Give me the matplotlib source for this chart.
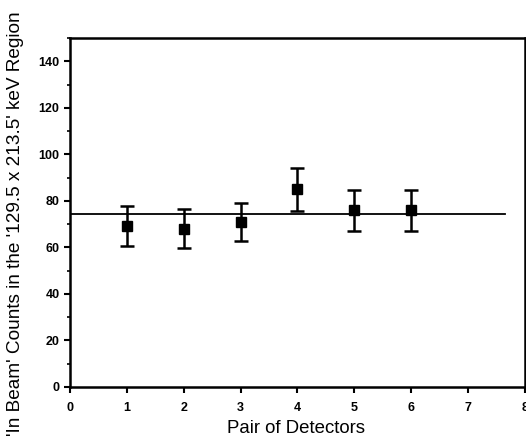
import matplotlib
matplotlib.use("Agg")
import matplotlib.pyplot as plt
from matplotlib.ticker import MultipleLocator

plt.rcParams["font.family"] = ["Liberation Sans", "DejaVu Sans"]

# data
pairs = [1, 2, 3, 4, 5, 6]
counts = [69.2, 68.1, 71.0, 85.0, 75.9, 75.9]
errors = [8.5, 8.5, 8.3, 9.2, 8.8, 8.8]
mean_level = 74.3
mean_span = [0, 7.65]

x_ticks = [0, 1, 2, 3, 4, 5, 6, 7, 8]
y_ticks = [0, 20, 40, 60, 80, 100, 120, 140]

fig = plt.figure(figsize=(5.26, 4.40), dpi=100)
ax = fig.add_axes([0.133, 0.1205, 0.865, 0.793])

ax.plot(mean_span, [mean_level, mean_level], color="black", linewidth=1.3)
ax.errorbar(pairs, counts, yerr=errors, fmt="s", color="black",
            markersize=6.5, elinewidth=1.8, capsize=5, capthick=1.8)

ax.set_xlim(0, 8)
ax.set_ylim(0, 150)
ax.set_xticks(x_ticks)
ax.set_yticks(y_ticks)
ax.yaxis.set_minor_locator(MultipleLocator(10))
ax.tick_params(which="major", direction="out", length=4, width=1.5)
ax.tick_params(which="minor", direction="out", length=2, width=1.2)
ax.tick_params(axis="x", pad=7)
for lbl in ax.get_xticklabels() + ax.get_yticklabels():
    lbl.set_fontweight("bold")
    lbl.set_fontsize(9)

for s in ax.spines.values():
    s.set_linewidth(1.8)

ax.set_xlabel("Pair of Detectors", fontsize=13.4)
ax.xaxis.set_label_coords(0.497, -0.095)
ax.set_ylabel("'In Beam' Counts in the '129.5 x 213.5' keV Region",
              fontsize=13.7)
ax.yaxis.set_label_coords(-0.102, 0.467)

fig.savefig("out.png", dpi=100)
